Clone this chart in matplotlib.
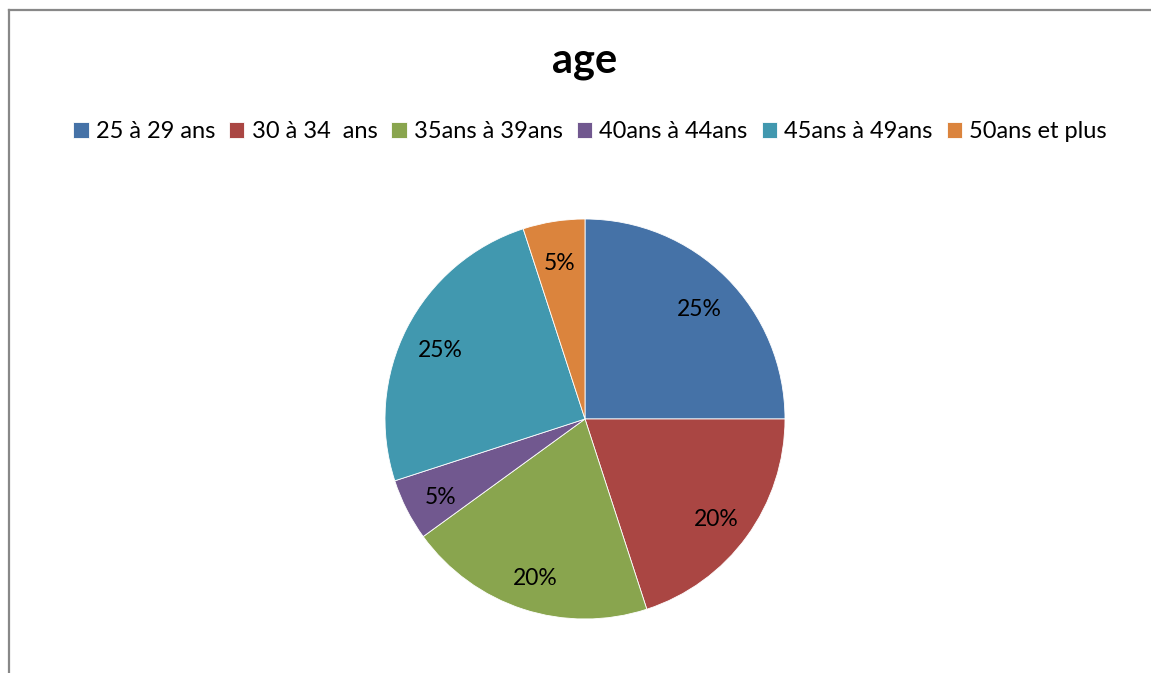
import matplotlib.pyplot as plt
from matplotlib.lines import Line2D

# --- data ---
categories = ["25 à 29 ans", "30 à 34  ans", "35ans à 39ans",
              "40ans à 44ans", "45ans à 49ans", "50ans et plus"]
shares = [25, 20, 20, 5, 25, 5]
colors = ["#4572A7", "#AA4643", "#89A54E", "#71588F", "#4198AF", "#DB843D"]

plt.rcParams['font.family'] = ['Lato', 'DejaVu Sans']

W, H = 1151, 673
fig = plt.figure(figsize=(W / 100, H / 100), dpi=100)

# chart frame (left and top edges visible)
fig.add_artist(Line2D([8.5 / W, 8.5 / W], [0, 1 - 10 / H], transform=fig.transFigure,
                      color="#888888", lw=1.6))
fig.add_artist(Line2D([8.5 / W, 1], [1 - 10 / H, 1 - 10 / H], transform=fig.transFigure,
                      color="#888888", lw=1.6))

# pie centred at (585, 419) px, radius 200 px
cx, cy, r = 585, 419, 200
ax = fig.add_axes([(cx - r) / W, (H - cy - r) / H, 2 * r / W, 2 * r / H])
wedges, texts, autotexts = ax.pie(
    shares, colors=colors, startangle=90, counterclock=False,
    autopct='%1.0f%%', pctdistance=0.81,
    wedgeprops=dict(edgecolor="white", linewidth=0.6),
    textprops=dict(fontsize=16.5, color="black"))
# nudge labels slightly down, as in the original
for t in autotexts:
    x, y = t.get_position()
    t.set_position((x, y - 0.025))
ax.set_xlim(-1, 1)
ax.set_ylim(-1, 1)
ax.set_aspect('equal')
ax.axis('off')

# title
fig.text(cx / W, 1 - 73 / H, "age", ha='center', va='baseline',
         fontsize=30, fontweight='bold')

# legend
fig.legend(wedges, categories, loc='center', bbox_to_anchor=(590 / W, 1 - 132 / H),
           ncol=6, frameon=False, fontsize=17, handlelength=0.65, handleheight=0.65,
           handletextpad=0.3, columnspacing=0.6, borderaxespad=0)

fig.savefig("out.png", dpi=100)
